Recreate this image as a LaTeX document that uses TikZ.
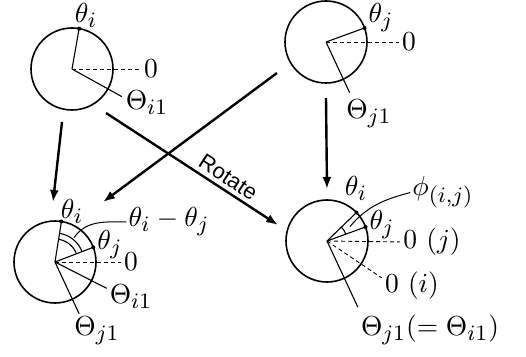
\documentclass[tikz,border=0pt]{standalone}
\usepackage{graphicx}
\usepackage{fontspec}
\newfontfamily\rotfont{Liberation Sans}
\usetikzlibrary{arrows.meta,calc}
\DeclareMathSizes{10}{10}{8}{6}
% labels blown up from 10pt
\newcommand{\mlab}[1]{\scalebox{2.75}{\fontsize{10}{12}\selectfont$#1$}}

\begin{document}
\begin{tikzpicture}[x=1pt,y=1pt,
  circ/.style={draw,circle,minimum size=82pt,inner sep=0pt,outer sep=0pt,line width=1.6pt},
  ray/.style={line width=1.1pt},
  zero/.style={line width=0.9pt,dash pattern=on 4pt off 3pt,shorten >=3pt},
  pt/.style={circle,fill,inner sep=0pt,minimum size=4pt},
  lbl/.style={inner sep=0pt},
  lead/.style={line width=1pt,shorten >=2pt},
  arrow/.style={-{Latex[length=12pt,width=9pt]},line width=2.4pt}
]
\useasboundingbox (0,0) rectangle (526,356);

% top left: i
\node[circ] (c1) at (72,287) {};
\node[pt] (p1i) at (c1.80) {};
\node[lbl] (l1i) at (86,341) {\mlab{\theta_i}};
\node[lbl] (z1) at (151,287) {\mlab{0}};
\node[lbl] (T1) at (147,253) {\mlab{\Theta_{i1}}};
\coordinate (e1) at ($(c1.center)+(-29:57)$);
\draw[ray] (c1.center) -- (p1i.center);
\draw[zero] (c1.center) -- (z1.west);
\draw[ray] (c1.center) -- (e1);

% top right: j
\node[circ] (c2) at (326,314) {};
\node[pt] (p2j) at (c2.20) {};
\node[lbl] (l2j) at (381,338) {\mlab{\theta_j}};
\node[lbl] (z2) at (409,314) {\mlab{0}};
\node[lbl] (T2) at (369,242) {\mlab{\Theta_{j1}}};
\coordinate (e2) at ($(c2.center)+(-65:56)$);
\draw[ray] (c2.center) -- (p2j.center);
\draw[zero] (c2.center) -- (z2.west);
\draw[ray] (c2.center) -- (e2);

% bottom left: difference
\node[circ] (c3) at (55,94) {};
\node[pt] (p3i) at (c3.81) {};
\node[pt] (p3j) at (c3.21) {};
\node[lbl] (l3i) at (72,145) {\mlab{\theta_i}};
\node[lbl] (l3j) at (110,111) {\mlab{\theta_j}};
\node[lbl] (z3) at (131,94) {\mlab{0}};
\node[lbl] (T3i) at (131,59) {\mlab{\Theta_{i1}}};
\node[lbl] (T3j) at (97,25) {\mlab{\Theta_{j1}}};
\node[lbl] (dij) at (169,134) {\mlab{\theta_i-\theta_j}};
\coordinate (e3i) at ($(c3.center)+(-27:58)$);
\coordinate (e3j) at ($(c3.center)+(-65:57)$);
\coordinate (s3) at ($(c3.center)+(52:31)$);
\draw[ray] (c3.center) -- (p3i.center);
\draw[ray] (c3.center) -- (p3j.center);
\draw[zero] (c3.center) -- (z3.west);
\draw[ray] (c3.center) -- (e3i);
\draw[ray] (c3.center) -- (e3j);
\draw[ray] ($(c3.center)+(21:23)$) arc[start angle=21,end angle=81,radius=23];
\draw[ray] ($(c3.center)+(21:29)$) arc[start angle=21,end angle=81,radius=29];
\draw[lead] (s3) to[out=55,in=180] (dij.west);

% bottom right: rotated
\node[circ] (c4) at (327,115) {};
\node[pt] (p4i) at (c4.44) {};
\node[pt] (p4j) at (c4.20) {};
\node[lbl] (l4i) at (356,168) {\mlab{\theta_i}};
\node[lbl] (l4j) at (382,131) {\mlab{\theta_j}};
\node[lbl] (z4j) at (432,114) {\mlab{0~(j)}};
\node[lbl] (z4i) at (412,70) {\mlab{0~(i)}};
\node[lbl] (T4) at (430,26) {\mlab{\Theta_{j1}(=\Theta_{i1})}};
\node[lbl] (phi) at (443,164) {\mlab{\phi_{(i,j)}}};
\coordinate (e4) at ($(c4.center)+(-65:73)$);
\coordinate (f4) at ($(c4.center)+(-34:66)$);
\coordinate (s4) at ($(c4.center)+(32:27)$);
\draw[ray] (c4.center) -- (p4i.center);
\draw[ray] (c4.center) -- (p4j.center);
\draw[zero] (c4.center) -- (z4j.west);
\draw[zero,shorten >=0pt] (c4.center) -- (f4);
\draw[ray] (c4.center) -- (e4);
\draw[ray] ($(c4.center)+(20:20)$) arc[start angle=20,end angle=44,radius=20];
\draw[lead] (s4) to[out=50,in=195] (phi.west);

% arrows
\coordinate (a1s) at (62,234);
\coordinate (a1e) at (53,154);
\coordinate (a2s) at (277,283);
\coordinate (a2e) at (103,154);
\coordinate (a3s) at (106,243);
\coordinate (a3e) at (278,131);
\coordinate (a4s) at (326,258);
\coordinate (a4e) at (327,167);
\draw[arrow] (a1s) -- (a1e);
\draw[arrow] (a2s) -- (a2e);
\draw[arrow] (a3s) -- node[pos=0.67,above,sloped,inner sep=4pt,font=\rotfont\fontsize{22}{24}\selectfont] (rot) {Rotate} (a3e);
\draw[arrow] (a4s) -- (a4e);
\end{tikzpicture}
\end{document}
